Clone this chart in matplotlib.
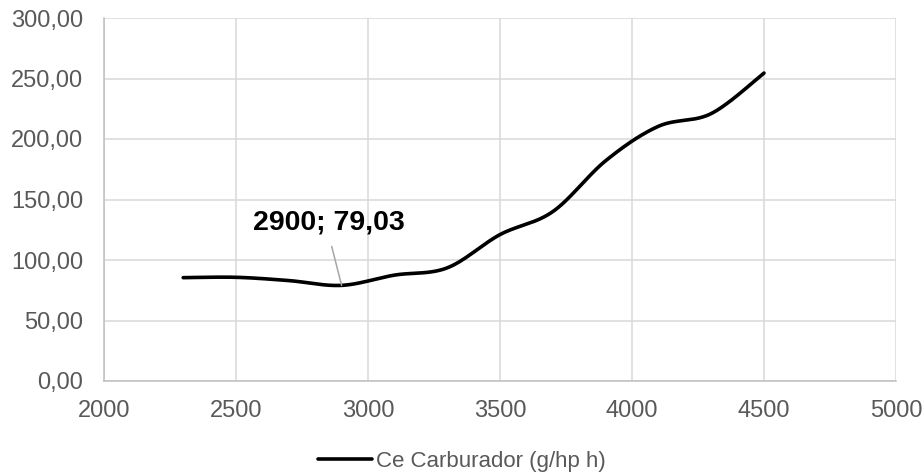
import numpy as np
import matplotlib
matplotlib.use("Agg")
import matplotlib.pyplot as plt
from matplotlib.ticker import FuncFormatter

# rpm vs specific consumption (g/hp h)
rpm = [2300, 2500, 2700, 2900, 3100, 3300, 3500, 3700, 3900, 4100, 4300, 4500]
ce = [85.4, 85.7, 83.0, 79.03, 87.5, 93.5, 121.0, 140.0, 182.0, 210.5, 221.0, 254.5]

series_label = "Ce Carburador (g/hp h)"
x_ticks = [2000, 2500, 3000, 3500, 4000, 4500, 5000]
y_ticks = [0, 50, 100, 150, 200, 250, 300]


def smooth(xs, ys, n=30):
    """Excel-like smoothed line: cubic Bezier segments, Catmull-Rom tangents."""
    p = np.column_stack([xs, ys]).astype(float)
    out = []
    for i in range(len(p) - 1):
        p0 = p[i - 1] if i > 0 else p[i]
        p1, p2 = p[i], p[i + 1]
        p3 = p[i + 2] if i + 2 < len(p) else p[i + 1]
        c1 = p1 + (p2 - p0) / 6.0
        c2 = p2 - (p3 - p1) / 6.0
        t = np.linspace(0, 1, n)[:, None]
        seg = ((1 - t) ** 3) * p1 + 3 * ((1 - t) ** 2) * t * c1 + 3 * (1 - t) * t ** 2 * c2 + t ** 3 * p2
        out.append(seg if i == 0 else seg[1:])
    seg = np.vstack(out)
    return seg[:, 0], seg[:, 1]


plt.rcParams["font.family"] = ["Liberation Sans", "DejaVu Sans"]

fig = plt.figure(figsize=(9.24, 4.76), dpi=100)
ax = fig.add_axes([104 / 924, 1 - 381 / 476, 792 / 924, 363 / 476])

sx, sy = smooth(rpm, ce)
ax.plot(sx, sy, color="black", lw=2.6, solid_capstyle="round", label=series_label, zorder=3)

ax.set_xlim(2000, 5000)
ax.set_ylim(0, 300)
ax.set_xticks(x_ticks)
ax.set_yticks(y_ticks)
ax.yaxis.set_major_formatter(FuncFormatter(lambda v, _: f"{v:.2f}".replace(".", ",")))
ax.grid(True, color="#d9d9d9", lw=1.1)
ax.set_axisbelow(True)
for side in ["top", "right"]:
    ax.spines[side].set_visible(False)
for side in ["left", "bottom"]:
    ax.spines[side].set_color("#bfbfbf")
    ax.spines[side].set_linewidth(1.1)
ax.tick_params(length=0, labelsize=17, labelcolor="#595959")
ax.tick_params(axis="y", pad=15)
ax.tick_params(axis="x", pad=14)

# data label for the minimum
imin = int(np.argmin(ce))
ax.annotate(f"{rpm[imin]}; {ce[imin]:.2f}".replace(".", ","),
            xy=(rpm[imin], ce[imin]), xytext=(2852, 131),
            ha="center", va="center", fontsize=20.5, fontweight="bold",
            arrowprops=dict(arrowstyle="-", color="#a6a6a6", lw=1.1, shrinkA=6, shrinkB=0,
                            relpos=(0.5, 0.0)))

fig.legend(loc="center", bbox_to_anchor=(0.5, 1 - 461 / 476), frameon=False, fontsize=16,
           handlelength=2.4, handletextpad=0.2, labelcolor="#595959")

fig.savefig("out.png", dpi=100)
